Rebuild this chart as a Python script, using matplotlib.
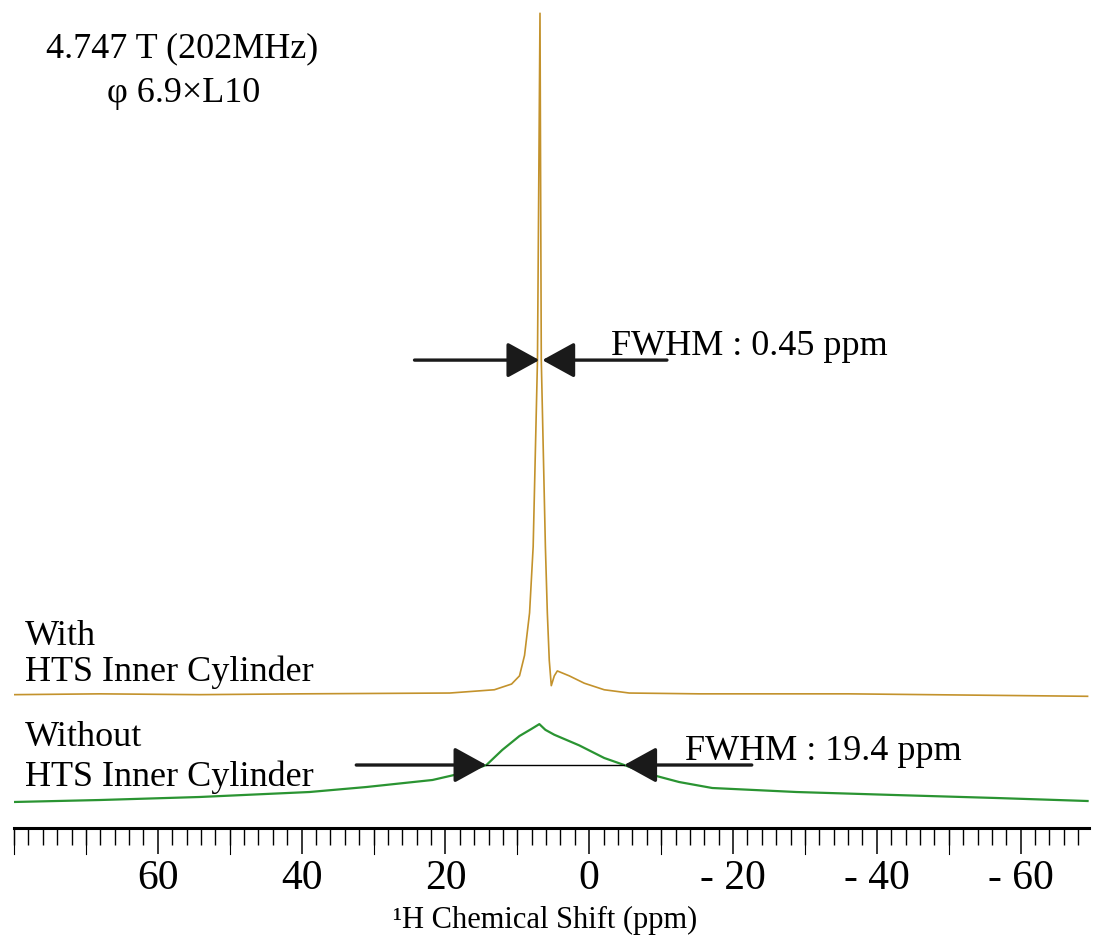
"""
1H NMR spectra with and without the HTS inner cylinder (4.747 T, 202 MHz).
"""

import numpy as np
import matplotlib
matplotlib.use("Agg")
import matplotlib.pyplot as plt

plt.rcParams["font.family"] = ["Liberation Serif", "DejaVu Serif"]

# spectrum with HTS inner cylinder (ppm, intensity in a.u., offset included)
WITH_PPM = [80.0, 68.1, 54.2, 40.3, 19.4, 13.2, 10.8, 9.7, 9.0, 8.3, 7.8, 7.2,
            6.85, 6.67, 6.1, 5.83, 5.56, 5.28, 4.86, 4.44, 2.78, 0.69, -2.08,
            -5.56, -15.3, -36.1, -69.3]
WITH_INT = [16.3, 16.4, 16.3, 16.4, 16.5, 16.9, 17.6, 18.6, 21.1, 26.3, 34.4, 57.2,
            99.6, 57.2, 34.4, 26.3, 20.5, 17.4, 18.6, 19.2, 18.6, 17.7, 16.9,
            16.5, 16.4, 16.4, 16.1]

# spectrum without HTS inner cylinder
WITHOUT_PPM = [80.0, 68.1, 54.2, 38.9, 31.0, 21.8, 17.6, 14.3, 12.1, 9.7, 8.06,
               6.94, 6.1, 4.86, 1.39, -2.08, -4.86, -8.3, -12.5, -17.1, -28.8,
               -42.6, -56.5, -69.3]
WITHOUT_INT = [3.18, 3.42, 3.79, 4.40, 5.01, 5.87, 6.72, 7.70, 9.54, 11.25, 12.1,
               12.7, 12.0, 11.4, 10.1, 8.56, 7.70, 6.60, 5.62, 4.89, 4.40,
               4.03, 3.67, 3.30]

TICK_VALUES = [60, 40, 20, 0, -20, -40, -60]
TICK_LABELS = ["60", "40", "20", "0", "- 20", "- 40", "- 60"]

W, H = 1098, 944
fig = plt.figure(figsize=(W / 100, H / 100), dpi=100)
ax = fig.add_axes([14 / W, 1 - 828 / H, 1075 / W, 818 / H])

ax.plot(WITH_PPM, WITH_INT, color="#c3922c", lw=1.2)
ax.plot(WITHOUT_PPM, WITHOUT_INT, color="#2a9432", lw=1.6)

ax.set_xlim(80, -69.5)
ax.set_ylim(0, 100)

for s in ["left", "right", "top"]:
    ax.spines[s].set_visible(False)
ax.spines["bottom"].set_linewidth(2.2)
ax.set_yticks([])
ax.set_xticks(TICK_VALUES)
ax.set_xticklabels(TICK_LABELS, fontsize=30)
ax.set_xticks(np.arange(-68, 81, 2), minor=True)
ax.tick_params(axis="x", which="major", direction="out", length=19, width=1.1, pad=4)
ax.tick_params(axis="x", which="minor", direction="out", length=12, width=1.0)
# unlabeled tens get long ticks too
for v in range(-60, 81, 10):
    if v not in TICK_VALUES:
        ax.plot([v, v], [0, -19 * 100 / 818 / 0.72], color="k", lw=0.8,
                clip_on=False)

# FWHM markers
arrow = dict(arrowstyle="-|>,head_length=1.0,head_width=0.55", mutation_scale=20,
             lw=2.4, color="#1a1a1a", shrinkA=0, shrinkB=0)
ax.annotate("", xy=(6.94, 57.2), xytext=(24.3, 57.2), arrowprops=arrow)
ax.annotate("", xy=(6.53, 57.2), xytext=(-10.8, 57.2), arrowprops=arrow)
ax.text(-3.06, 57.8, "FWHM : 0.45 ppm", fontsize=26, va="baseline", ha="left")

ax.annotate("", xy=(14.3, 7.7), xytext=(32.4, 7.7), arrowprops=arrow)
ax.annotate("", xy=(-4.86, 7.7), xytext=(-22.6, 7.7), arrowprops=arrow)
ax.plot([14.3, -4.86], [7.7, 7.7], color="k", lw=1.0)
ax.text(-13.3, 8.3, "FWHM : 19.4 ppm", fontsize=26, va="baseline", ha="left")

# labels
fig.text(25 / W, 1 - 645 / H, "With", fontsize=26, va="baseline")
fig.text(25 / W, 1 - 681 / H, "HTS Inner Cylinder", fontsize=26, va="baseline")
fig.text(25 / W, 1 - 746 / H, "Without", fontsize=26, va="baseline")
fig.text(25 / W, 1 - 786 / H, "HTS Inner Cylinder", fontsize=26, va="baseline")

fig.text(182 / W, 1 - 57 / H, "4.747 T (202MHz)", fontsize=26, ha="center", va="baseline")
fig.text(184 / W, 1 - 102 / H, "\u03c6 6.9\u00d7L10", fontsize=26, ha="center", va="baseline")

fig.text(545 / W, 1 - 906 / H, "\u00b9H Chemical Shift (ppm)", fontsize=22,
         ha="center", va="top")

fig.savefig("out.png", dpi=100)
